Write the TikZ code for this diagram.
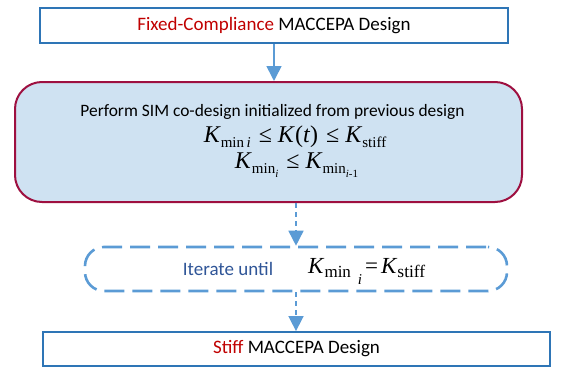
\documentclass[tikz,border=0pt]{standalone}
\usepackage{fontspec}
\setmainfont{Carlito}
\newfontfamily\tms{Liberation Serif}
\usetikzlibrary{arrows.meta}

\definecolor{boxblue}{HTML}{2E75B6}
\definecolor{lineblue}{HTML}{5B9BD5}
\definecolor{maroon}{HTML}{9E1040}
\definecolor{paleblue}{HTML}{CFE2F2}
\definecolor{redtext}{HTML}{C00000}
\definecolor{darkbluetext}{HTML}{2F5597}

% lowered roman subscript for the stiffness symbols
\newcommand\lowsub[2][5pt]{\raisebox{-#1}{\fontsize{15}{15}\selectfont #2}}
\newcommand\tinysub[1]{\raisebox{-4pt}{\fontsize{11}{11}\selectfont #1}}
\newcommand\rel[1]{\hspace{8pt}#1\hspace{6pt}}

\tikzset{
  stagebox/.style={draw=boxblue, line width=1.8pt, minimum height=34pt,
    font=\fontsize{19}{19}\selectfont, inner sep=0pt},
  designbox/.style={draw=maroon, fill=paleblue, line width=2pt,
    rounded corners=27pt, minimum width=507pt, minimum height=120pt},
  loopbox/.style={draw=lineblue, line width=2.6pt, rounded corners=19pt,
    dash pattern=on 20pt off 8pt, dash phase=-2pt,
    minimum width=422pt, minimum height=44pt},
  flow/.style={draw=lineblue, line width=1.6pt,
    -{Triangle[length=15pt,width=15pt]}},
  dashflow/.style={flow, dash pattern=on 5pt off 4pt},
  mathline/.style={anchor=base, inner sep=0pt, font=\fontsize{24}{24}\tms},
}

\begin{document}
\begin{tikzpicture}[x=1pt, y=-1pt]
  \useasboundingbox (0,0) rectangle (565,367);

  % stage boxes
  \node[stagebox, minimum width=468pt, minimum height=35pt] (fixed) at (274,25.5)
    {\textcolor{redtext}{Fixed-Compliance} MACCEPA Design};
  \node[designbox] (design) at (268.5,142) {};
  \node[loopbox] (loop) at (296,269) {};
  \node[stagebox, minimum width=507pt] (stiff) at (296.5,349)
    {\textcolor{redtext}{Stiff} MACCEPA Design};

  % contents of the co-design step
  \node[anchor=base, inner sep=0pt, font=\fontsize{17.4}{17.4}\selectfont]
    (perform) at (272.5,116) {Perform SIM co-design initialized from previous design};
  \node[mathline] (bounds) at (295,142.5)
    {\textit{K}\lowsub{min\,\textit{i}}\rel{≤}\textit{K}(\textit{t})\rel{≤}\textit{K}\lowsub{stiff}};
  \node[mathline] (monotone) at (296.5,168)
    {\textit{K}\lowsub{min\tinysub{\textit{i}}}\rel{≤}\textit{K}\lowsub{min\tinysub{\textit{i}-1}}};

  % contents of the loop condition
  \node[anchor=base, inner sep=0pt, font=\fontsize{19}{19}\selectfont, text=darkbluetext]
    (until) at (228,275) {Iterate until};
  \node[anchor=base west, inner sep=0pt, font=\fontsize{23}{23}\tms]
    (stop) at (308,273)
    {\textit{K}\lowsub[4pt]{\fontsize{17}{17}\selectfont min}\hspace{7pt}\raisebox{-11pt}{\fontsize{15}{15}\selectfont\textit{i}}\hspace{3pt}=\hspace{3pt}\textit{K}\lowsub[4pt]{\fontsize{17.5}{17.5}\selectfont stiff}};

  % connectors
  \draw[flow] (fixed.south) -- (fixed.south |- design.north);
  \draw[dashflow] (design.south -| loop.north) -- (loop.north);
  \draw[dashflow] (loop.south) -- (loop.south |- stiff.north);
\end{tikzpicture}
\end{document}
